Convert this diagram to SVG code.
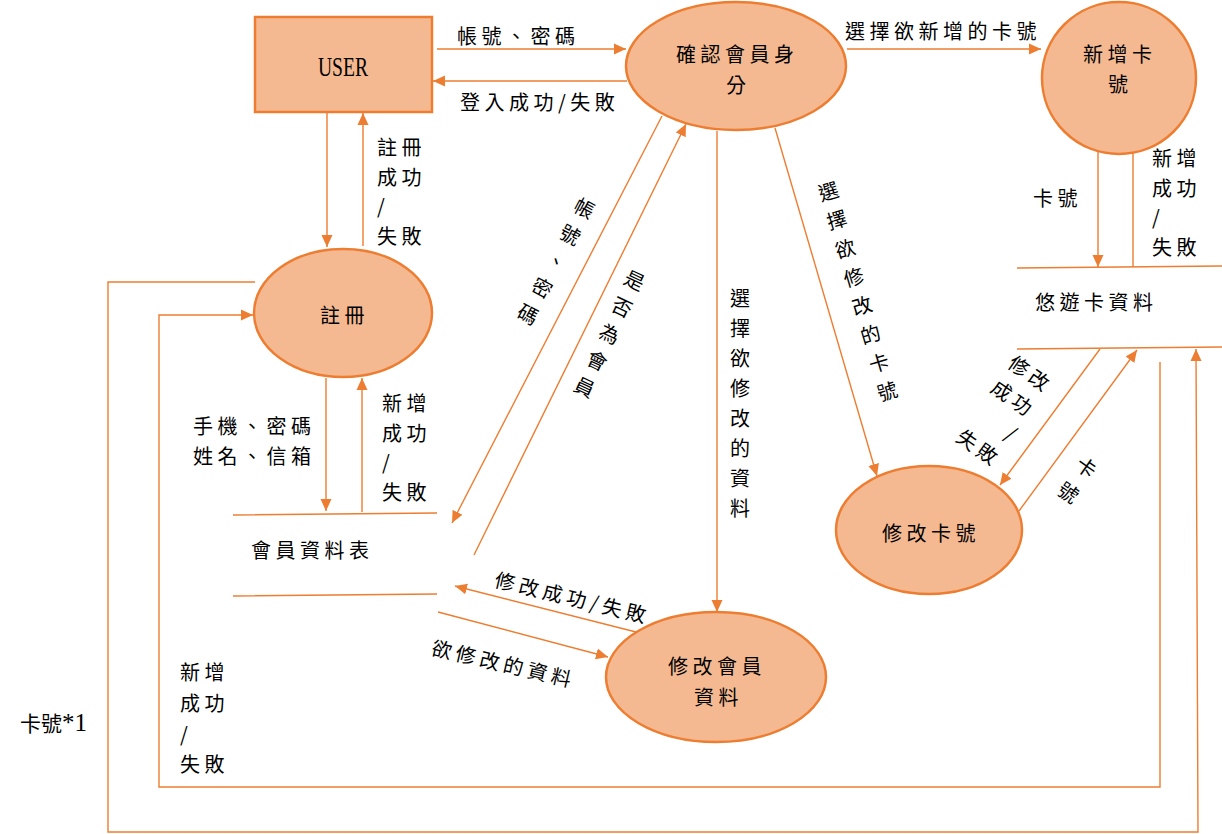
<svg xmlns="http://www.w3.org/2000/svg" width="1222" height="834" viewBox="0 0 1222 834">
<defs>
<marker id="ah" markerUnits="userSpaceOnUse" markerWidth="12" markerHeight="12" viewBox="0 0 12 12" refX="12" refY="6" orient="auto">
<path d="M0,0.5 L12,6 L0,11.5 z" fill="#ED7D31"/>
</marker>
<style>
.proc{fill:#F4B991;stroke:#ED7D31;stroke-width:2.5}
.ln{fill:none;stroke:#ED7D31;stroke-width:1.4}
.ar{fill:none;stroke:#ED7D31;stroke-width:1.4;marker-end:url(#ah)}
.t{font-family:"Noto Sans CJK TC","Liberation Serif",sans-serif;font-size:20px;letter-spacing:4.5px;fill:#000;dominant-baseline:central}
.c{font-family:"Noto Sans CJK TC","Liberation Serif",sans-serif;font-size:20px;fill:#000;dominant-baseline:central;text-anchor:middle}
.s{font-family:"Liberation Serif","Noto Sans CJK TC",serif;font-size:27px;fill:#000;dominant-baseline:central}
</style>
</defs>
<rect width="1222" height="834" fill="#fff"/>

<g id="connectors">
<path class="ar" d="M437,49 L626,49"/>
<path class="ar" d="M627,81 L433,81"/>
<path class="ar" d="M847,49 L1041,49"/>
<path class="ar" d="M1098,130 L1098,267"/>
<path class="ar" d="M1133,267 L1133,131"/>
<path class="ar" d="M327,112 L327,247"/>
<path class="ar" d="M363,246 L363,113"/>
<path class="ar" d="M326,378 L326,511"/>
<path class="ar" d="M362,512 L362,378"/>
<path class="ar" d="M662,116 L452,523"/>
<path class="ar" d="M474,555 L686,124"/>
<path class="ar" d="M717,131 L717,612"/>
<path class="ar" d="M775,128 L877,476"/>
<path class="ar" d="M1100,349 L1000,485"/>
<path class="ar" d="M1019,511 L1137,350"/>
<path class="ar" d="M636,632 L455,586"/>
<path class="ar" d="M438,612 L608,657"/>
<path class="ar" d="M1160,362 L1160,787 L159,787 L159,315 L253,315"/>
<path class="ar" d="M255,282 L108,282 L108,832 L1198,832 L1196,349"/>

<text class="t" x="457" y="35">帳號、密碼</text>
<text class="t" x="460" y="101">登入成功/失敗</text>
<text class="t" x="845" y="30">選擇欲新增的卡號</text>
<text class="t" x="1033" y="197">卡號</text>
<text class="t"><tspan x="1152" y="157">新增</tspan><tspan x="1152" y="187">成功</tspan><tspan x="1152" y="216">/</tspan><tspan x="1152" y="246">失敗</tspan></text>
<text class="t"><tspan x="377" y="146">註冊</tspan><tspan x="377" y="176">成功</tspan><tspan x="377" y="205">/</tspan><tspan x="377" y="235">失敗</tspan></text>
<text class="t"><tspan x="193" y="425">手機、密碼</tspan><tspan x="193" y="455">姓名、信箱</tspan></text>
<text class="t"><tspan x="382" y="402">新增</tspan><tspan x="382" y="432">成功</tspan><tspan x="382" y="461">/</tspan><tspan x="382" y="491">失敗</tspan></text>
<text class="t"><tspan x="180" y="671">新增</tspan><tspan x="180" y="702">成功</tspan><tspan x="180" y="733">/</tspan><tspan x="180" y="763">失敗</tspan></text>
<text x="20" y="722"><tspan class="t" style="font-size:21px;letter-spacing:0px">卡號</tspan><tspan class="s" style="font-size:25px">*1</tspan></text>
<text class="c"><tspan x="740" y="297">選</tspan><tspan x="740" dy="30">擇</tspan><tspan x="740" dy="30">欲</tspan><tspan x="740" dy="30">修</tspan><tspan x="740" dy="30">改</tspan><tspan x="740" dy="30">的</tspan><tspan x="740" dy="30">資</tspan><tspan x="740" dy="30">料</tspan></text>
<text class="c" transform="translate(585,207) rotate(28)"><tspan x="0" y="0">帳</tspan><tspan x="0" dy="30">號</tspan><tspan x="0" dy="30">、</tspan><tspan x="0" dy="30">密</tspan><tspan x="0" dy="30">碼</tspan></text>
<text class="c" transform="translate(635,279) rotate(25)"><tspan x="0" y="0">是</tspan><tspan x="0" dy="29.5">否</tspan><tspan x="0" dy="29.5">為</tspan><tspan x="0" dy="29.5">會</tspan><tspan x="0" dy="29.5">員</tspan></text>
<text class="c" transform="translate(828,190) rotate(-16.4)"><tspan x="0" y="0">選</tspan><tspan x="0" dy="29.8">擇</tspan><tspan x="0" dy="29.8">欲</tspan><tspan x="0" dy="29.8">修</tspan><tspan x="0" dy="29.8">改</tspan><tspan x="0" dy="29.8">的</tspan><tspan x="0" dy="29.8">卡</tspan><tspan x="0" dy="29.8">號</tspan></text>
<text class="t" text-anchor="middle" transform="translate(1030,372) rotate(35)"><tspan x="2" y="0">修改</tspan><tspan x="2" y="30">成功</tspan><tspan x="22" y="60">/</tspan><tspan x="2" y="90">失敗</tspan></text>
<text class="c" transform="translate(1087,466) rotate(35)"><tspan x="0" y="0">卡</tspan><tspan x="0" dy="31">號</tspan></text>
<text class="t" text-anchor="middle" transform="translate(573,597) rotate(13.6)">修改成功/失敗</text>
<text class="t" text-anchor="middle" transform="translate(504,663) rotate(13.2)">欲修改的資料</text>
</g>

<g id="user">
<rect class="proc" x="255" y="17" width="177" height="95"/>
<text class="s" x="343" y="67" text-anchor="middle" textLength="50" lengthAdjust="spacingAndGlyphs">USER</text>
</g>

<g id="verify">
<ellipse class="proc" cx="736" cy="66" rx="110" ry="64"/>
<text class="t" x="676" y="53">確認會員身</text>
<text class="t" x="726" y="84">分</text>
</g>

<g id="addcard">
<ellipse class="proc" cx="1119" cy="78" rx="77" ry="76"/>
<text class="t" x="1083" y="53">新增卡</text>
<text class="t" x="1108" y="83">號</text>
</g>

<g id="register">
<ellipse class="proc" cx="343" cy="313" rx="89" ry="64"/>
<text class="t" x="320" y="314">註冊</text>
</g>

<g id="editcard">
<ellipse class="proc" cx="929" cy="530" rx="93" ry="64"/>
<text class="t" x="882" y="532">修改卡號</text>
</g>

<g id="editmember">
<ellipse class="proc" cx="716" cy="677" rx="110" ry="65"/>
<text class="t" x="668" y="665">修改會員</text>
<text class="t" x="694" y="696">資料</text>
</g>

<g id="memberstore">
<path class="ln" d="M233,515 L437,513 M233,596 L437,594"/>
<text class="t" x="251" y="549">會員資料表</text>
</g>

<g id="cardstore">
<path class="ln" d="M1017,268 L1222,266 M1017,349 L1222,347"/>
<text class="t" x="1035" y="301">悠遊卡資料</text>
</g>
</svg>
